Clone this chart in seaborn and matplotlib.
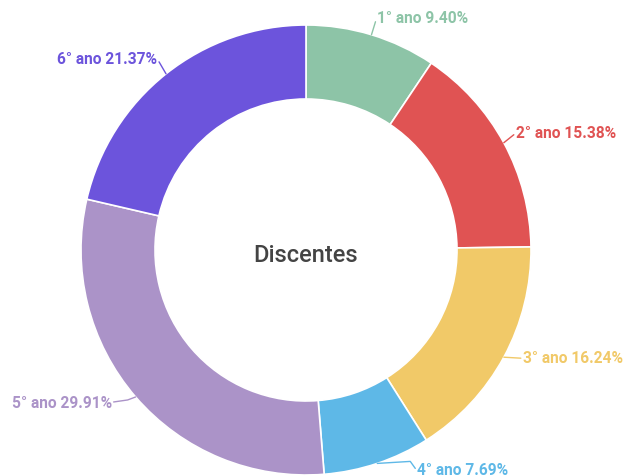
import matplotlib
matplotlib.use("Agg")
import matplotlib.pyplot as plt
import seaborn as sns
import numpy as np

# ---- data ----
categories = ["1° ano", "2° ano", "3° ano", "4° ano", "5° ano", "6° ano"]
values = [9.40, 15.38, 16.24, 7.69, 29.91, 21.37]
colors = ["#8dc4a7", "#e05353", "#f1c968", "#5eb8e7", "#ab93c8", "#6c54dc"]
center_title = "Discentes"

# ---- layout (pixels, y down) ----
W, H = 628, 477
CX, CY = 306, 251
R_OUT, R_IN = 225, 151
# leader polyline offsets and text offsets relative to the wedge anchor
leader_pts = [
    [(0, 0), (4, -13)],
    [(0, 0), (10, -8)],
    [(0, 0), (17, 1)],
    [(0, 0), (33, -2), (38, 5)],
    [(0, 0), (-8, 3), (-22, 5)],
    [(0, 0), (-7, -12)],
]
text_off = [(5.5, -17.5), (12, -10), (19, 0), (40, 6.5), (-23.5, 5.5), (-9, -15)]

sns.set_style("white")
plt.rcParams['font.family'] = ['Roboto', 'DejaVu Sans']

fig = plt.figure(figsize=(W / 100, H / 100), dpi=100)
ax = fig.add_axes([0, 0, 1, 1])

wedges, _ = ax.pie(values, colors=sns.color_palette(colors), radius=R_OUT,
                   center=(CX, H - CY), startangle=90, counterclock=False,
                   wedgeprops=dict(width=R_OUT - R_IN, edgecolor="white", linewidth=1.2))
ax.set_xlim(0, W)
ax.set_ylim(0, H)
ax.set_aspect("equal")
ax.axis("off")

total = sum(values)
cum = 0.0
for i, (cat, v) in enumerate(zip(categories, values)):
    mid = cum + v / 2
    cum += v
    theta = np.deg2rad(90 - mid / total * 360)
    ax_px = CX + R_OUT * np.cos(theta)
    ay_px = CY - R_OUT * np.sin(theta)
    xs = [ax_px + p[0] for p in leader_pts[i]]
    ys = [H - (ay_px + p[1]) for p in leader_pts[i]]
    ax.plot(xs, ys, color=colors[i], lw=1.0, solid_capstyle="round")
    tx = ax_px + text_off[i][0]
    ty = H - (ay_px + text_off[i][1])
    ha = "left" if text_off[i][0] > 0 else "right"
    ax.text(tx, ty, f"{cat} {v:.2f}%", color=colors[i], fontsize=11.2,
            fontweight="semibold", ha=ha, va="center")

ax.text(CX, H - 255, center_title, ha="center", va="center", fontsize=17,
        color="#444444", fontweight="medium")

fig.savefig("out.png", dpi=100)
